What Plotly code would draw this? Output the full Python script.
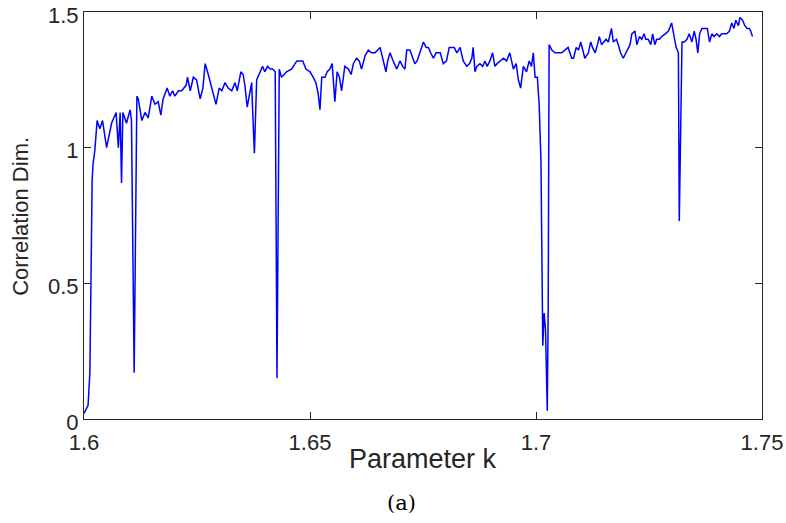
import plotly.graph_objects as go

# Correlation dimension versus the control parameter k
k_values = [
    1.6000, 1.6009, 1.6013, 1.6015, 1.6018, 1.6020, 1.6024, 1.6029, 1.6035, 1.6041,
    1.6050, 1.6061, 1.6071, 1.6076, 1.6080, 1.6083, 1.6086, 1.6094, 1.6102, 1.6105,
    1.6111, 1.6117, 1.6120, 1.6128, 1.6135, 1.6142, 1.6150, 1.6157, 1.6164, 1.6170,
    1.6175, 1.6184, 1.6190, 1.6196, 1.6201, 1.6209, 1.6216, 1.6226, 1.6229, 1.6235,
    1.6242, 1.6249, 1.6257, 1.6263, 1.6268, 1.6275, 1.6283, 1.6292, 1.6299, 1.6305,
    1.6312, 1.6319, 1.6327, 1.6334, 1.6339, 1.6347, 1.6352, 1.6356, 1.6361, 1.6366,
    1.6371, 1.6373, 1.6377, 1.6382, 1.6389, 1.6395, 1.6400, 1.6406, 1.6412, 1.6417,
    1.6423, 1.6427, 1.6432, 1.6437, 1.6448, 1.6459, 1.6471, 1.6478, 1.6484, 1.6491,
    1.6500, 1.6507, 1.6513, 1.6518, 1.6522, 1.6526, 1.6533, 1.6538, 1.6544, 1.6549,
    1.6555, 1.6560, 1.6565, 1.6570, 1.6577, 1.6585, 1.6591, 1.6596, 1.6603, 1.6609,
    1.6614, 1.6622, 1.6629, 1.6636, 1.6644, 1.6655, 1.6661, 1.6668, 1.6672, 1.6677,
    1.6684, 1.6692, 1.6699, 1.6705, 1.6710, 1.6714, 1.6721, 1.6727, 1.6732, 1.6737,
    1.6743, 1.6751, 1.6757, 1.6762, 1.6767, 1.6773, 1.6779, 1.6788, 1.6795, 1.6802,
    1.6808, 1.6814, 1.6819, 1.6825, 1.6832, 1.6839, 1.6847, 1.6853, 1.6858, 1.6861,
    1.6865, 1.6869, 1.6876, 1.6882, 1.6887, 1.6892, 1.6898, 1.6904, 1.6909, 1.6914,
    1.6920, 1.6928, 1.6935, 1.6942, 1.6950, 1.6956, 1.6961, 1.6966, 1.6972, 1.6979,
    1.6985, 1.6990, 1.6994, 1.6998, 1.7003, 1.7007, 1.7011, 1.7013, 1.7015, 1.7018,
    1.7021, 1.7025, 1.7027, 1.7029, 1.7035, 1.7042, 1.7049, 1.7057, 1.7064, 1.7071,
    1.7079, 1.7083, 1.7089, 1.7094, 1.7099, 1.7105, 1.7108, 1.7116, 1.7121, 1.7125,
    1.7131, 1.7136, 1.7140, 1.7145, 1.7150, 1.7155, 1.7160, 1.7164, 1.7167, 1.7171,
    1.7178, 1.7182, 1.7187, 1.7193, 1.7199, 1.7204, 1.7208, 1.7212, 1.7219, 1.7223,
    1.7229, 1.7234, 1.7239, 1.7243, 1.7248, 1.7254, 1.7258, 1.7263, 1.7267, 1.7273,
    1.7278, 1.7286, 1.7293, 1.7300, 1.7304, 1.7310, 1.7315, 1.7317, 1.7323, 1.7328,
    1.7334, 1.7339, 1.7345, 1.7350, 1.7354, 1.7358, 1.7362, 1.7367, 1.7374, 1.7379,
    1.7384, 1.7389, 1.7394, 1.7400, 1.7406, 1.7411, 1.7416, 1.7422, 1.7428, 1.7433,
    1.7438, 1.7442, 1.7448, 1.7451, 1.7457, 1.7462, 1.7467, 1.7472, 1.7475, 1.7479,
]

corr_dim = [
    0.02, 0.05, 0.17, 0.50, 0.88, 0.94, 0.99, 1.10, 1.07, 1.10,
    1.00, 1.09, 1.13, 1.00, 1.13, 0.87, 1.13, 1.09, 1.14, 1.10,
    0.17, 1.19, 1.18, 1.10, 1.13, 1.11, 1.19, 1.16, 1.17, 1.12,
    1.18, 1.22, 1.19, 1.21, 1.19, 1.21, 1.21, 1.23, 1.26, 1.21,
    1.26, 1.25, 1.18, 1.22, 1.31, 1.27, 1.22, 1.16, 1.22, 1.21,
    1.24, 1.22, 1.21, 1.24, 1.21, 1.28, 1.27, 1.23, 1.15, 1.20,
    1.24, 1.14, 0.98, 1.25, 1.28, 1.30, 1.28, 1.30, 1.29, 1.29,
    1.28, 0.15, 1.29, 1.26, 1.28, 1.29, 1.32, 1.32, 1.32, 1.29,
    1.28, 1.26, 1.24, 1.20, 1.14, 1.26, 1.26, 1.28, 1.29, 1.31,
    1.17, 1.28, 1.26, 1.21, 1.30, 1.29, 1.27, 1.31, 1.33, 1.32,
    1.29, 1.34, 1.36, 1.35, 1.35, 1.37, 1.33, 1.28, 1.32, 1.35,
    1.32, 1.29, 1.32, 1.30, 1.29, 1.36, 1.36, 1.33, 1.31, 1.32,
    1.35, 1.39, 1.37, 1.37, 1.35, 1.33, 1.35, 1.35, 1.31, 1.32,
    1.37, 1.37, 1.37, 1.35, 1.37, 1.32, 1.30, 1.31, 1.33, 1.37,
    1.28, 1.30, 1.31, 1.30, 1.32, 1.30, 1.32, 1.35, 1.30, 1.31,
    1.32, 1.33, 1.32, 1.35, 1.29, 1.31, 1.25, 1.22, 1.30, 1.28,
    1.32, 1.30, 1.35, 1.26, 1.26, 1.16, 0.95, 0.41, 0.27, 0.39,
    0.33, 0.03, 0.41, 1.38, 1.36, 1.35, 1.35, 1.35, 1.36, 1.37,
    1.33, 1.33, 1.37, 1.36, 1.39, 1.35, 1.33, 1.35, 1.39, 1.37,
    1.35, 1.38, 1.41, 1.38, 1.39, 1.40, 1.39, 1.42, 1.44, 1.39,
    1.40, 1.38, 1.35, 1.33, 1.35, 1.37, 1.38, 1.42, 1.43, 1.38,
    1.41, 1.40, 1.42, 1.40, 1.40, 1.38, 1.42, 1.38, 1.40, 1.40,
    1.41, 1.42, 1.43, 1.46, 1.42, 1.37, 1.35, 0.73, 1.39, 1.39,
    1.40, 1.42, 1.39, 1.43, 1.40, 1.35, 1.42, 1.44, 1.44, 1.44,
    1.39, 1.42, 1.41, 1.42, 1.41, 1.42, 1.42, 1.42, 1.43, 1.46,
    1.44, 1.47, 1.45, 1.48, 1.47, 1.45, 1.44, 1.44, 1.43, 1.41,
]

x_ticks = [1.6, 1.65, 1.7, 1.75]
x_tick_text = ["1.6", "1.65", "1.7", "1.75"]
y_ticks = [0, 0.5, 1, 1.5]
y_tick_text = ["0", "0.5", "1", "1.5"]

axis_color = "#262626"
sans = "Liberation Sans, Arial, sans-serif"

fig = go.Figure()
fig.add_trace(go.Scatter(
    x=k_values, y=corr_dim, mode="lines",
    line=dict(color="#0000ff", width=1.5),
    showlegend=False,
))

common_axis = dict(
    showgrid=False, zeroline=False,
    showline=True, linecolor=axis_color, linewidth=1,
    mirror="allticks", ticks="inside", ticklen=7, tickcolor=axis_color,
    tickfont=dict(family=sans, size=22, color=axis_color),
)

fig.update_xaxes(
    range=[1.6, 1.75], tickvals=x_ticks, ticktext=x_tick_text,
    ticklabelstandoff=4,
    **common_axis,
)
fig.update_yaxes(
    range=[-0.0005, 1.5005], tickvals=y_ticks, ticktext=y_tick_text,
    ticklabelshift=3,
    **common_axis,
)

# axis titles and panel caption
fig.add_annotation(
    text="Parameter k", xref="paper", yref="paper", x=0.5, y=-0.098,
    xanchor="center", yanchor="middle", showarrow=False,
    font=dict(family=sans, size=27, color=axis_color),
)
fig.add_annotation(
    text="Correlation Dim.", xref="paper", yref="paper", x=-0.093, y=0.499,
    xanchor="center", yanchor="middle", showarrow=False, textangle=-90,
    font=dict(family=sans, size=22, color=axis_color),
)
fig.add_annotation(
    text="(a)", xref="paper", yref="paper", x=0.469, y=-0.206,
    xanchor="center", yanchor="middle", showarrow=False,
    font=dict(family="DejaVu Serif, Liberation Serif, serif", size=21, color="#000000"),
)

fig.update_layout(
    width=786, height=523,
    margin=dict(l=84, r=24, t=12, b=104, autoexpand=False),
    paper_bgcolor="white", plot_bgcolor="white",
)

fig.write_html("out.html")
